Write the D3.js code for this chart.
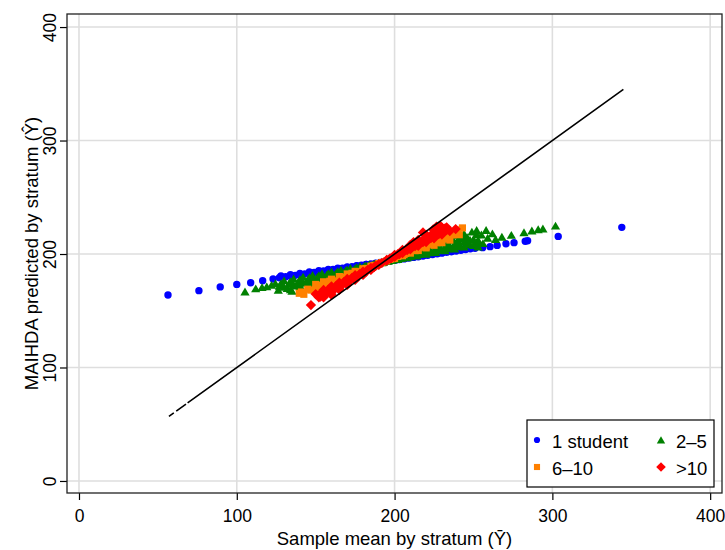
<!DOCTYPE html>
<html><head><meta charset="utf-8">
<script src="https://cdn.jsdelivr.net/npm/d3@7"></script>
<style>body{margin:0;background:#fff}text{font-family:"Liberation Sans",Arial,sans-serif;fill:#000}</style>
</head><body>
<svg id="chart" width="725" height="550"></svg>
<script>
const xTicks = [0, 100, 200, 300, 400];
const yTicks = [0, 100, 200, 300, 400];
const identityLine = [57, 345];
const xTitle = "Sample mean by stratum (\u0232)";
const yTitle = "MAIHDA predicted by stratum (\u0176)";
const seriesNames = ["1 student", "2\u20135", "6\u201310", ">10"];
const seriesColors = ["#0000ff", "#008000", "#ff8000", "#ff0000"];

const oneStudent = [
[56.4,163.9],[76,167.7],[89.5,171],[100,173.2],[108.8,174.7],[116.4,176.5],[123,178],[127,179.1],[131,180],[134,180.6],[137,181.2],[140,181.9],[143,182.5],[146,183.1],[149,183.8],[152,184.4],[155,185],[158,185.7],[161,186.3],[164,186.9],[167,187.5],[170,188.2],[173,188.8],[176,189.4],[179,190.1],[182,190.7],[185,191.3],[188,192],[191,192.6],[194,193.2],[197,193.8],[200,194.5],[203,195.1],[206,195.7],[209,196.4],[212,197],[215,197.6],[218,198.2],[221,198.9],[224,199.5],[227,200.1],[230,200.8],[233,201.4],[236,202],[239,202.7],[242,203.3],[245,203.9],[248,204.6],[251,205.1],[255.8,205.6],[260.5,206.5],[265,207.6],[270.6,209],[275.7,210],[282.8,211.2],[284.3,211.7],[303.7,215.5],[344,223.5],
[195,193.5],[201,195],[207,196.5],[213,197.8],[219,199.2],[225,200.5],[231,201.8],[237,203],[243,204.4],[249,205.7],
[128,180.6],[134,181.8],[140,182.9],[146,184.1],[152,185.2],[158,186.3],[164,187.5],[170,188.6],[176,189.8],[182,190.9]
];

const twoToFive = [
[105.2,166.8],[112,169.5],[116,170.6],[119,171.3],[122,172.6],[124.5,174],[126.3,168.3],
[130,176.6],[136,178.2],[142,179.7],[148,181.3],[154,182.9],[160,184.4],[166,186],[172,187.5],[178,189.1],[184,190.7],[190,192.2],[196,193.8],[202,195.3],[208,196.9],[214,198.5],[220,200],[226,201.6],[232,203.1],[238,204.7],[244,206.3],[250,207.8],[256,209.4],
[128,174.1],[134,175.9],[140,177.6],[146,179.4],[152,181.1],[158,182.8],[164,184.6],[170,186.3],[176,188.1],[182,189.8],[188,191.5],[198,194.5],[204,196.2],[210,197.9],[216,199.7],[222,201.4],[228,203.2],[234,204.9],[240,206.6],[246,208.4],[252,210.1],
[127,171.9],[133,173.8],[139,175.7],[145,177.6],[151,179.6],[157,181.5],[163,183.4],[169,185.3],[175,187.2],[181,189.2],[187,191.1],[193,193],[199,194.9],[205,196.8],[211,198.8],[217,200.7],[223,202.6],[229,204.5],[235,206.4],[241,208.4],[247,210.3],[253,212.2],[259,214.1],
[130,170.9],[136,173],[142,175.1],[148,177.2],[154,179.3],[160,181.4],[166,183.5],[172,185.6],[178,187.7],[184,189.8],[202,196.2],[208,198.3],[214,200.4],[220,202.5],[226,204.6],[232,206.7],[238,208.8],[244,210.9],[250,213],
[132,169.8],[138,172.1],[144,174.4],[150,176.7],[156,178.9],[162,181.2],[168,183.5],[174,185.8],[180,188.1],[186,190.3],[192,192.6],[198,194.9],[204,197.2],[210,199.5],[216,201.7],[222,204],[228,206.3],[234,208.6],[240,210.9],[246,213.1],
[134,168.8],[140,171.3],[146,173.7],[152,176.2],[158,178.6],[164,181.1],[170,183.6],[176,186],[182,188.5],[204,197.5],[210,200],[216,202.4],[222,204.9],[228,207.4],[234,209.8],[240,212.3],[246,214.7],[252,217.2],
[135,167.5],[141,170.1],[147,172.8],[153,175.4],[159,178],[165,180.7],[171,183.3],[177,186],[183,188.6],[189,191.2],[195,193.9],[201,196.5],[207,199.2],[213,201.8],[219,204.4],[225,207.1],[231,209.7],[237,212.4],[243,215],
[236,214.5],[240,216.5],[243.6,213.8],[244,218],[247.8,212.3],[249,219.5],[252,221],[253,206.4],[255,217],[258,221],[262,218],[264,213],[268,215],[274,216.7],[282,219],[287,220.5],[291,221.7],[294,222.3],[302,224.8]
];

const sixToTen = [
[139.6,165.4],[142.5,164.5],[141,166.5],
[150,173.2],[155,175.5],[160,177.8],[165,180.1],[170,182.4],[175,184.7],[180,187],[185,189.3],[190,191.6],[195,193.9],[200,196.2],[205,198.5],[210,200.8],[215,203.1],[220,205.4],[225,207.7],[230,210],[235,212.3],
[145,169],[152,172.5],[159,176],[166,179.5],[173,183],[180,186.5],[187,190],[199,196],[206,199.5],[213,203],[220,206.5],[227,210],[234,213.5],[241,217],
[147,168.2],[152,170.9],[157,173.6],[162,176.3],[167,179],[172,181.7],[177,184.4],[182,187.1],[187,189.8],[192,192.5],[197,195.2],[202,197.9],[207,200.6],[212,203.3],[217,206],[222,208.7],[227,211.4],[232,214.1],[237,216.8],
[150,168.5],[155,171.3],[160,174.2],[165,177],[170,179.9],[176,183.3],[183,187.3],[203,198.7],[209,202.1],[215,205.5],[221,209],[227,212.4],[233,215.8],[239,219.2],
[157,171.4],[162,174.4],[168,178],[174,181.6],[180,185.2],[186,188.8],[198,196],[204,199.6],[210,203.2],[216,206.8],[222,210.4],[228,214],[234,217.6],[240,221.2],
[243,223],[231,218.5],[237,219.5]
];

const overTen = [
[147,155],[150,164.7],[153,162.4],[156,166],[159.5,168],
[155,168.3],[160,171.5],[165,174.8],[170,178],[175,181.3],[180,184.5],[185,187.8],[190,191],[195,194.3],[200,197.6],[205,200.8],[210,204.1],[215,207.3],[220,210.6],[225,213.8],[230,217.1],[235,220.3],
[153,165],[158,168.5],[163,172],[168,175.5],[173,179],[178,182.5],[183,186],[188,189.5],[198,196.5],[203,200],[208,203.5],[213,207],[218,210.5],[223,214],[228,217.5],[233,221],
[152,161.8],[157,165.6],[162,169.4],[167,173.2],[172,177],[177,180.8],[182,184.6],[187,188.4],[192,192.2],[197,196],[202,199.8],[207,203.6],[212,207.4],[217,211.2],[222,215],[227,218.8],[232,222.6],
[155,161.8],[160,165.9],[165,170],[170,174.1],[175,178.2],[180,182.3],[185,186.4],[200,198.7],[205,202.8],[210,206.9],[215,211],[220,215.1],[225,219.2],[230,223.3],
[160,164],[165,168.4],[170,172.8],[175,177.2],[180,181.6],[185,186],[190,190.4],[195,194.8],[200,199.2],[205,203.6],[210,208],[215,212.4],[220,216.8],[225,221.2],[229,224.7],
[224.5,221.7],[226.6,224],[233,223.5],[238.7,222],[218,219],[212,210.5]
];

const allSeries = [oneStudent, twoToFive, sixToTen, overTen];

const svg = d3.select("#chart");
const L = 67, R = 722, T = 14, B = 493;
const x = d3.scaleLinear().domain([-7.6, 407.5]).range([L, R]);
const y = d3.scaleLinear().domain([-10.6, 411.5]).range([B, T]);

svg.append("rect").attr("x",0).attr("y",0).attr("width",725).attr("height",550).attr("fill","#fff");

// grid
const grid = svg.append("g");
grid.selectAll("line.gx").data(xTicks).join("line").attr("class","gx")
  .attr("x1",d=>x(d)).attr("x2",d=>x(d)).attr("y1",T).attr("y2",B)
  .attr("stroke","#dedede").attr("stroke-width",1.6);
grid.selectAll("line.gy").data(yTicks).join("line").attr("class","gy")
  .attr("y1",d=>y(d)).attr("y2",d=>y(d)).attr("x1",L).attr("x2",R)
  .attr("stroke","#dedede").attr("stroke-width",1.6);

// axes
const xAxis = svg.append("g").attr("transform",`translate(0,${B})`)
  .call(d3.axisBottom(x).tickValues(xTicks).tickSizeInner(7).tickSizeOuter(0).tickPadding(10));
xAxis.select(".domain").remove();
xAxis.selectAll(".tick line").attr("stroke","#000").attr("stroke-width",1.2);
xAxis.selectAll(".tick text").attr("font-size",17.5).attr("font-family","Liberation Sans, Arial, sans-serif").attr("fill","#000");

const yAxis = svg.append("g").attr("transform",`translate(${L},0)`)
  .call(d3.axisLeft(y).tickValues(yTicks).tickSizeInner(7).tickSizeOuter(0));
yAxis.select(".domain").remove();
yAxis.selectAll(".tick line").attr("stroke","#000").attr("stroke-width",1.2);
yAxis.selectAll(".tick text").attr("font-size",17.5).attr("font-family","Liberation Sans, Arial, sans-serif").attr("fill","#000")
  .attr("transform","rotate(-90)").attr("x",0).attr("y",-11).attr("dy",0).attr("text-anchor","middle");

// titles
svg.append("text").attr("x",(L+R)/2).attr("y",545).attr("text-anchor","middle").attr("font-size",18.5).text(xTitle);
svg.append("text").attr("transform",`translate(38,${(T+B)/2}) rotate(-90)`).attr("text-anchor","middle").attr("font-size",18.5).text(yTitle);

// markers
function markerPath(k, s) {
  if (k === 0) { const r = s*0.5; return `M${-r},0a${r},${r} 0 1,0 ${2*r},0a${r},${r} 0 1,0 ${-2*r},0Z`; }
  if (k === 1) { const h = s*0.5; return `M0,${-h*0.95}L${h*1.05},${h*0.85}L${-h*1.05},${h*0.85}Z`; }
  if (k === 2) { const h = s*0.47; return `M${-h},${-h}H${h}V${h}H${-h}Z`; }
  const h = s*0.6; return `M0,${-h}L${h},0L0,${h}L${-h},0Z`;
}
const sizes = [7.4, 8.8, 7.6, 8.6];
const pts = svg.append("g");
allSeries.forEach((data, k) => {
  pts.append("g").selectAll("path").data(data).join("path")
    .attr("d", markerPath(k, sizes[k]))
    .attr("transform", d => `translate(${x(d[0])},${y(d[1])})`)
    .attr("fill", seriesColors[k]);
});

// identity line
svg.append("line")
  .attr("x1", x(identityLine[0])).attr("y1", y(identityLine[0]))
  .attr("x2", x(identityLine[1])).attr("y2", y(identityLine[1]))
  .attr("stroke","#000").attr("stroke-width",1.6)
  .attr("stroke-dasharray","6,3,12,2,1000");

// frame
svg.append("rect").attr("x",L).attr("y",T).attr("width",R-L).attr("height",B-T)
  .attr("fill","none").attr("stroke","#222").attr("stroke-width",1.3);

// legend
const lg = svg.append("g");
lg.append("rect").attr("x",527).attr("y",420).attr("width",187).attr("height",67)
  .attr("fill","#fff").attr("stroke","#000").attr("stroke-width",1.2);
const legPos = [[537,440],[661,440],[537,467],[661,467]];
const legSizes = [6.2, 8, 6.5, 8];
seriesNames.forEach((name, k) => {
  lg.append("path").attr("d", markerPath(k, legSizes[k]))
    .attr("transform", `translate(${legPos[k][0]},${legPos[k][1]})`).attr("fill", seriesColors[k]);
  lg.append("text").attr("x", legPos[k][0]+15).attr("y", legPos[k][1]+7.5)
    .attr("font-size",18.5).text(name);
});
</script>
</body></html>
